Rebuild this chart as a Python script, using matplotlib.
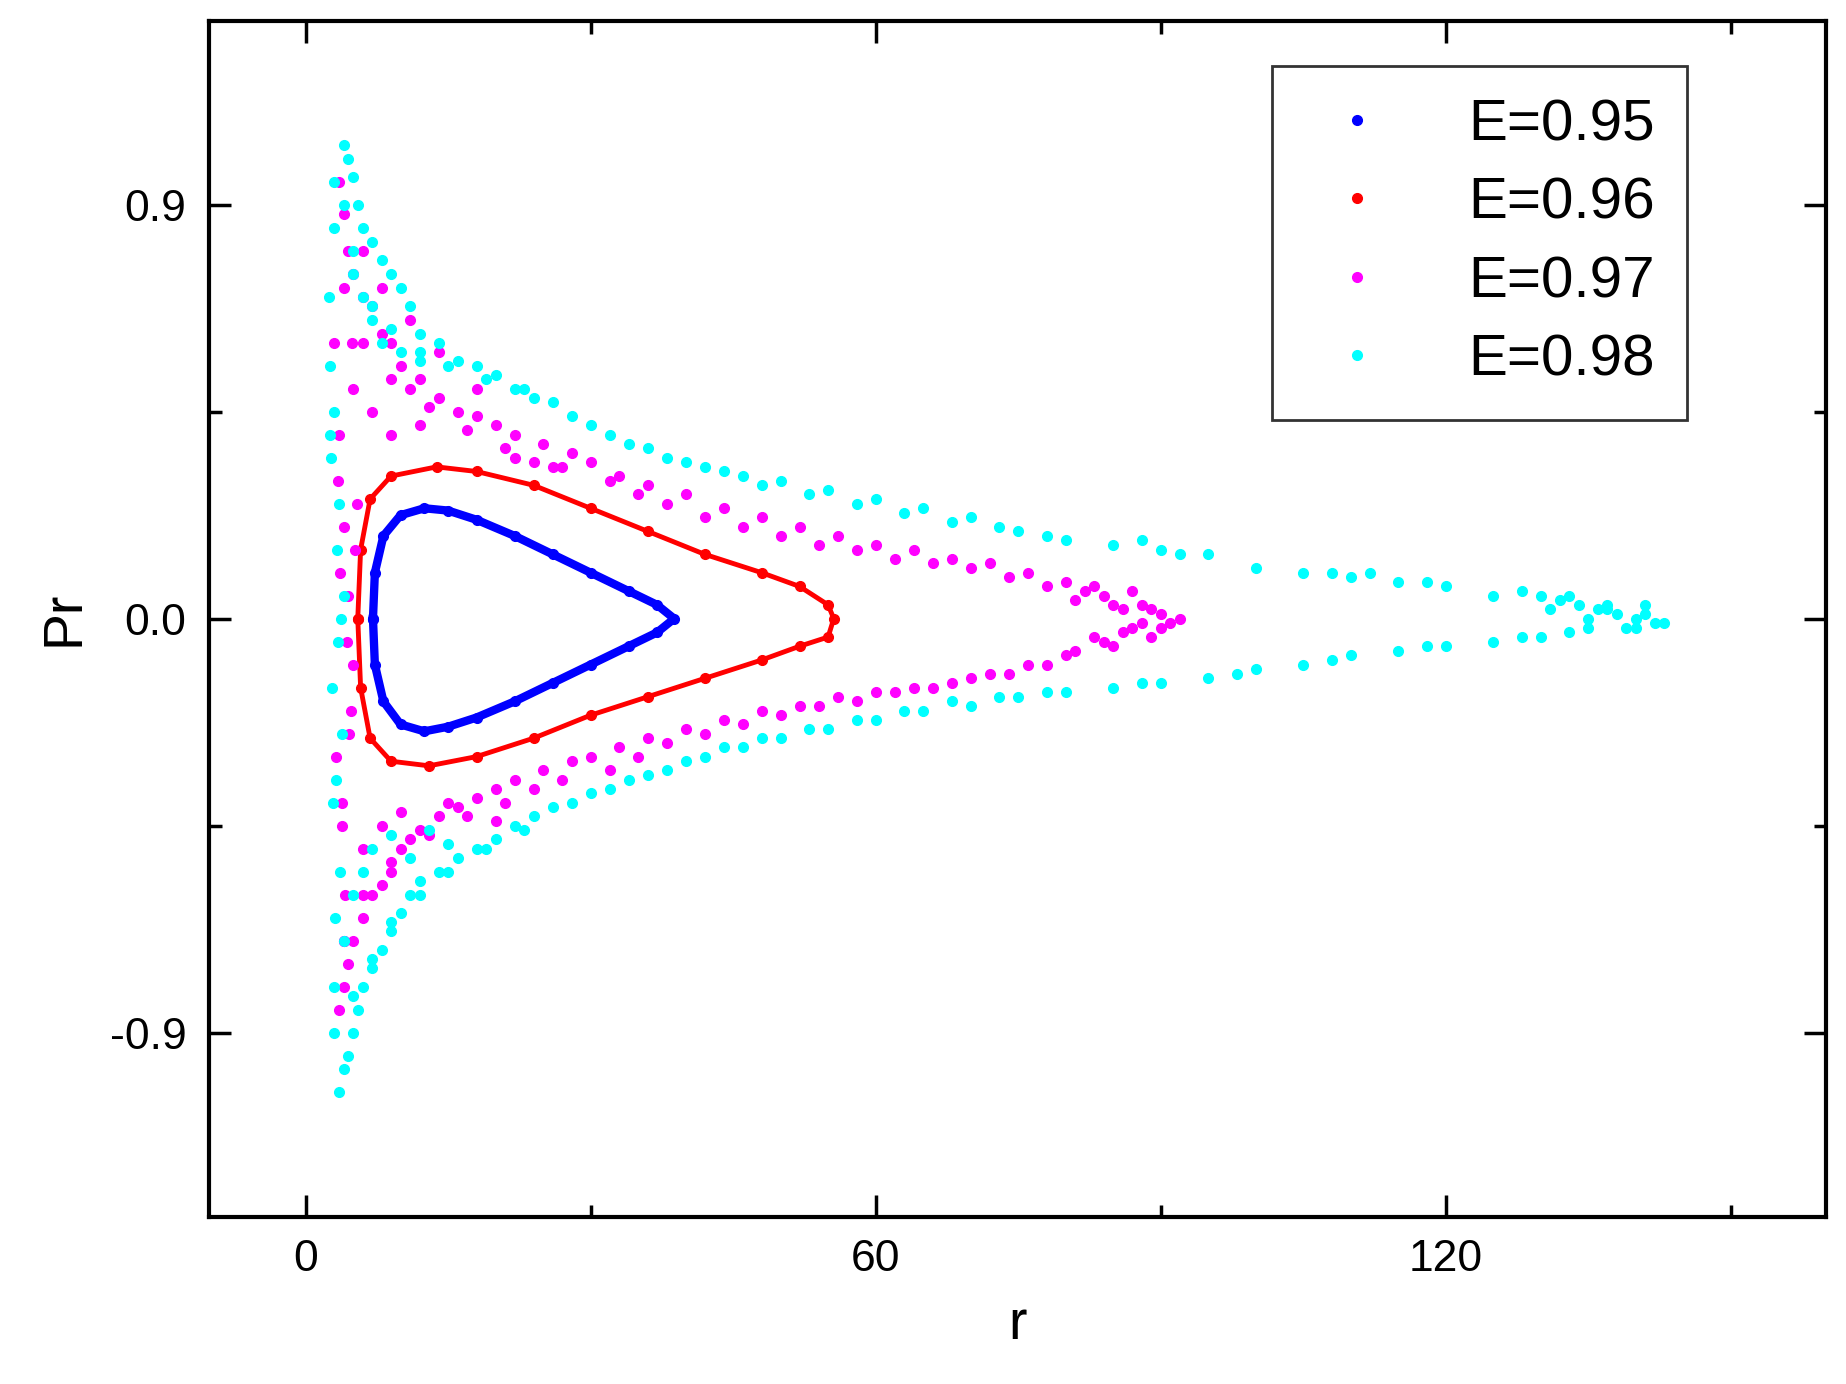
import matplotlib.pyplot as plt

plt.rcParams['font.family'] = ['Liberation Sans', 'DejaVu Sans']
plt.rcParams['axes.unicode_minus'] = False

# E=0.95 closed curve (r, Pr)
blue_r = [7.1, 7.3, 8.2, 10, 12.5, 15, 18, 22, 26, 30, 34, 37, 38.8, 37, 34, 30, 26, 22, 18, 15, 12.5, 10, 8.2, 7.3, 7.1]
blue_p = [0, 0.1, 0.18, 0.225, 0.24, 0.235, 0.215, 0.18, 0.14, 0.1, 0.06, 0.03, 0, -0.03, -0.06, -0.1, -0.14, -0.18, -0.215, -0.235, -0.245, -0.23, -0.18, -0.1, 0]

# E=0.96 closed curve
red_r = [5.5, 5.8, 6.8, 9, 13.8, 18, 24, 30, 36, 42, 48, 52, 55, 55.6, 55, 52, 48, 42, 36, 30, 24, 18, 13, 9, 6.8, 5.8, 5.5]
red_p = [0, 0.15, 0.26, 0.31, 0.33, 0.32, 0.29, 0.24, 0.19, 0.14, 0.1, 0.07, 0.03, 0, -0.04, -0.06, -0.09, -0.13, -0.17, -0.21, -0.26, -0.30, -0.32, -0.31, -0.26, -0.15, 0]

# E=0.97 scattered points
mag_r = [3.5, 4, 4.5, 5, 6, 7, 8, 9, 10, 11, 12, 14, 16, 18, 20, 22, 25, 28, 30, 33, 36, 40, 44, 48, 52, 56, 60, 64, 68, 72, 76, 80, 82, 84, 86, 88, 90, 92,
         3, 3.5, 4, 4.5, 5, 3.2, 3.8, 4.2, 3.4, 4.8,
         3.5, 4, 4.5, 5, 6, 7, 8, 9, 10, 11, 12, 14, 16, 18, 20, 22, 25, 28, 30, 33, 36, 40, 44, 48, 52, 56, 60, 64, 68, 72, 76, 80, 84, 86, 88, 90,
         5, 7, 9, 12, 6, 8, 10, 15, 20, 6, 8, 11, 14, 18, 22, 26,
         4, 6, 9, 13, 17, 21, 24, 27, 32, 35, 38, 42, 46, 50, 54, 58, 62, 66, 70, 74, 78, 81, 83, 85, 87, 89, 91,
         4, 6, 9, 13, 17, 21, 24, 27, 32, 35, 38, 42, 46, 50, 54, 58, 62, 66, 70, 74, 78, 81, 83, 85, 87, 89,
         3.6, 4.4, 5.2, 3.8, 4.6, 5.4, 4.1, 4.9]
mag_p = [0.95, 0.88, 0.8, 0.75, 0.7, 0.68, 0.62, 0.6, 0.55, 0.5, 0.52, 0.48, 0.45, 0.44, 0.42, 0.4, 0.38, 0.36, 0.34, 0.31, 0.29, 0.27, 0.24, 0.22, 0.2, 0.18, 0.16, 0.15, 0.13, 0.12, 0.1, 0.08, 0.06, 0.05, 0.02, 0.03, 0.01, 0.0,
         0.6, 0.4, 0.2, 0.05, -0.1, -0.3, -0.45, -0.6, 0.3, -0.2,
         -0.85, -0.8, -0.75, -0.7, -0.65, -0.6, -0.58, -0.55, -0.5, -0.48, -0.46, -0.43, -0.41, -0.39, -0.37, -0.35, -0.33, -0.31, -0.3, -0.28, -0.26, -0.24, -0.22, -0.2, -0.19, -0.17, -0.16, -0.15, -0.14, -0.12, -0.1, -0.08, -0.05, -0.03, -0.01, -0.02,
         0.5, 0.45, 0.4, 0.42, -0.5, -0.45, -0.42, -0.4, -0.44, 0.8, 0.72, 0.65, 0.58, 0.5, 0.35, 0.33,
         0.72, 0.6, 0.52, 0.46, 0.41, 0.37, 0.34, 0.33, 0.3, 0.27, 0.25, 0.22, 0.2, 0.18, 0.16, 0.15, 0.13, 0.12, 0.11, 0.09, 0.07, 0.04, 0.07, 0.03, 0.06, 0.02, -0.01,
         -0.7, -0.6, -0.53, -0.47, -0.43, -0.4, -0.37, -0.35, -0.33, -0.3, -0.27, -0.25, -0.23, -0.21, -0.19, -0.18, -0.16, -0.15, -0.13, -0.12, -0.1, -0.07, -0.04, -0.06, -0.02, -0.04,
         0.1, -0.05, 0.15, -0.4, -0.25, 0.25, -0.7, 0.6]

# E=0.98 scattered points
cyan_r = [4, 4.5, 5, 5.5, 6, 7, 8, 9, 10, 11, 12, 14, 16, 18, 20, 22, 24, 26, 30, 34, 38, 42, 46, 50, 55, 60, 65, 70, 75, 80, 85, 90, 95, 100, 105, 110, 115, 120, 125, 130, 132, 134, 136, 138, 140, 142, 143,
          2.5, 3, 3.5, 4, 2.8, 3.2, 3.6, 2.6, 3.4, 3.8,
          3.5, 4, 4.5, 5, 5.5, 6, 7, 8, 9, 10, 11, 12, 14, 16, 18, 20, 22, 24, 26, 30, 34, 38, 42, 46, 50, 55, 60, 65, 70, 75, 80, 85, 90, 95, 100, 105, 110, 115, 120, 125, 130, 135, 140,
          3, 4, 5, 6, 7, 8, 10, 12, 3, 4, 5, 6, 7, 9, 11, 13, 15,
          3, 5, 7, 9, 12, 15, 19, 23, 28, 32, 36, 40, 44, 48, 53, 58, 63, 68, 73, 78, 88, 92, 108, 112, 118, 128, 131, 133, 135, 137, 139, 141,
          3, 5, 7, 9, 12, 15, 19, 23, 28, 32, 36, 40, 44, 48, 53, 58, 63, 68, 73, 78, 88, 98, 108, 118, 128, 133, 137, 141,
          2.7, 3.3, 2.9, 3.1, 3.7, 2.6]
cyan_p = [1.03, 1.0, 0.96, 0.9, 0.85, 0.82, 0.78, 0.75, 0.72, 0.68, 0.62, 0.6, 0.56, 0.55, 0.53, 0.5, 0.48, 0.47, 0.42, 0.38, 0.35, 0.33, 0.31, 0.3, 0.28, 0.26, 0.24, 0.22, 0.19, 0.17, 0.16, 0.15, 0.14, 0.11, 0.1, 0.09, 0.08, 0.07, 0.05, 0.05, 0.04, 0.03, 0.02, 0.01, 0.0, -0.01, -0.01,
          0.7, 0.45, 0.25, 0.05, -0.15, -0.35, -0.55, 0.55, -0.05, -0.25,
          -1.03, -0.98, -0.95, -0.9, -0.85, -0.8, -0.76, -0.72, -0.68, -0.64, -0.6, -0.57, -0.55, -0.52, -0.5, -0.48, -0.45, -0.43, -0.41, -0.38, -0.35, -0.33, -0.3, -0.28, -0.26, -0.24, -0.22, -0.2, -0.19, -0.17, -0.16, -0.15, -0.14, -0.13, -0.11, -0.1, -0.08, -0.07, -0.06, -0.05, -0.04, -0.02, -0.02,
          0.95, 0.9, 0.8, 0.7, 0.65, 0.6, 0.58, 0.56, -0.8, -0.7, -0.6, -0.55, -0.5, -0.47, -0.52, -0.46, -0.49,
          0.85, 0.75, 0.68, 0.63, 0.58, 0.55, 0.52, 0.5, 0.44, 0.4, 0.37, 0.34, 0.32, 0.29, 0.27, 0.25, 0.23, 0.21, 0.2, 0.18, 0.17, 0.14, 0.1, 0.1, 0.08, 0.06, 0.02, 0.05, 0.0, 0.03, -0.02, 0.01,
          -0.9, -0.82, -0.74, -0.66, -0.6, -0.55, -0.5, -0.46, -0.4, -0.37, -0.34, -0.31, -0.28, -0.26, -0.24, -0.22, -0.2, -0.18, -0.17, -0.16, -0.14, -0.12, -0.09, -0.06, -0.04, -0.03, 0.02, 0.03,
          0.35, 0.15, -0.4, -0.65, 0.0, 0.4]

fig = plt.figure(figsize=(18.46, 13.84), dpi=100)
ax = fig.add_axes([0.113, 0.121, 0.876, 0.864])

ms = 7
ax.plot(blue_r, blue_p, color='#0000ff', lw=6, marker='o', ms=ms, label='E=0.95')
ax.plot(red_r, red_p, color='#ff0000', lw=3.5, marker='o', ms=ms, label='E=0.96')
ax.plot(mag_r, mag_p, ls='none', color='#ff00ff', marker='o', ms=ms, label='E=0.97')
ax.plot(cyan_r, cyan_p, ls='none', color='#00ffff', marker='o', ms=ms, label='E=0.98')

ax.set_xlim(-10.2, 160)
ax.set_ylim(-1.3, 1.3)
ax.set_xticks([0, 60, 120])
ax.set_xticks([30, 90, 150], minor=True)
ax.set_yticks([-0.9, 0.0, 0.9])
ax.set_yticks([-0.45, 0.45], minor=True)
ax.tick_params(which='both', direction='in', top=True, right=True, width=2.5, labelsize=32, pad=16)
ax.tick_params(which='major', length=16)
ax.tick_params(which='minor', length=9)
for s in ax.spines.values():
    s.set_linewidth(3)

ax.set_xlabel('r', fontsize=40, labelpad=14)
ax.set_ylabel('Pr', fontsize=40, labelpad=14)

leg = ax.legend(loc='upper right', bbox_to_anchor=(0.914, 0.962), fontsize=42, markerscale=1.0,
                fancybox=False, edgecolor='black', handlelength=1.8, handletextpad=1.0,
                borderpad=0.55, labelspacing=0.42, borderaxespad=0)
leg.get_frame().set_linewidth(2)
for h in leg.legend_handles:
    h.set_linestyle('none')

fig.savefig('out.png', dpi=100)
